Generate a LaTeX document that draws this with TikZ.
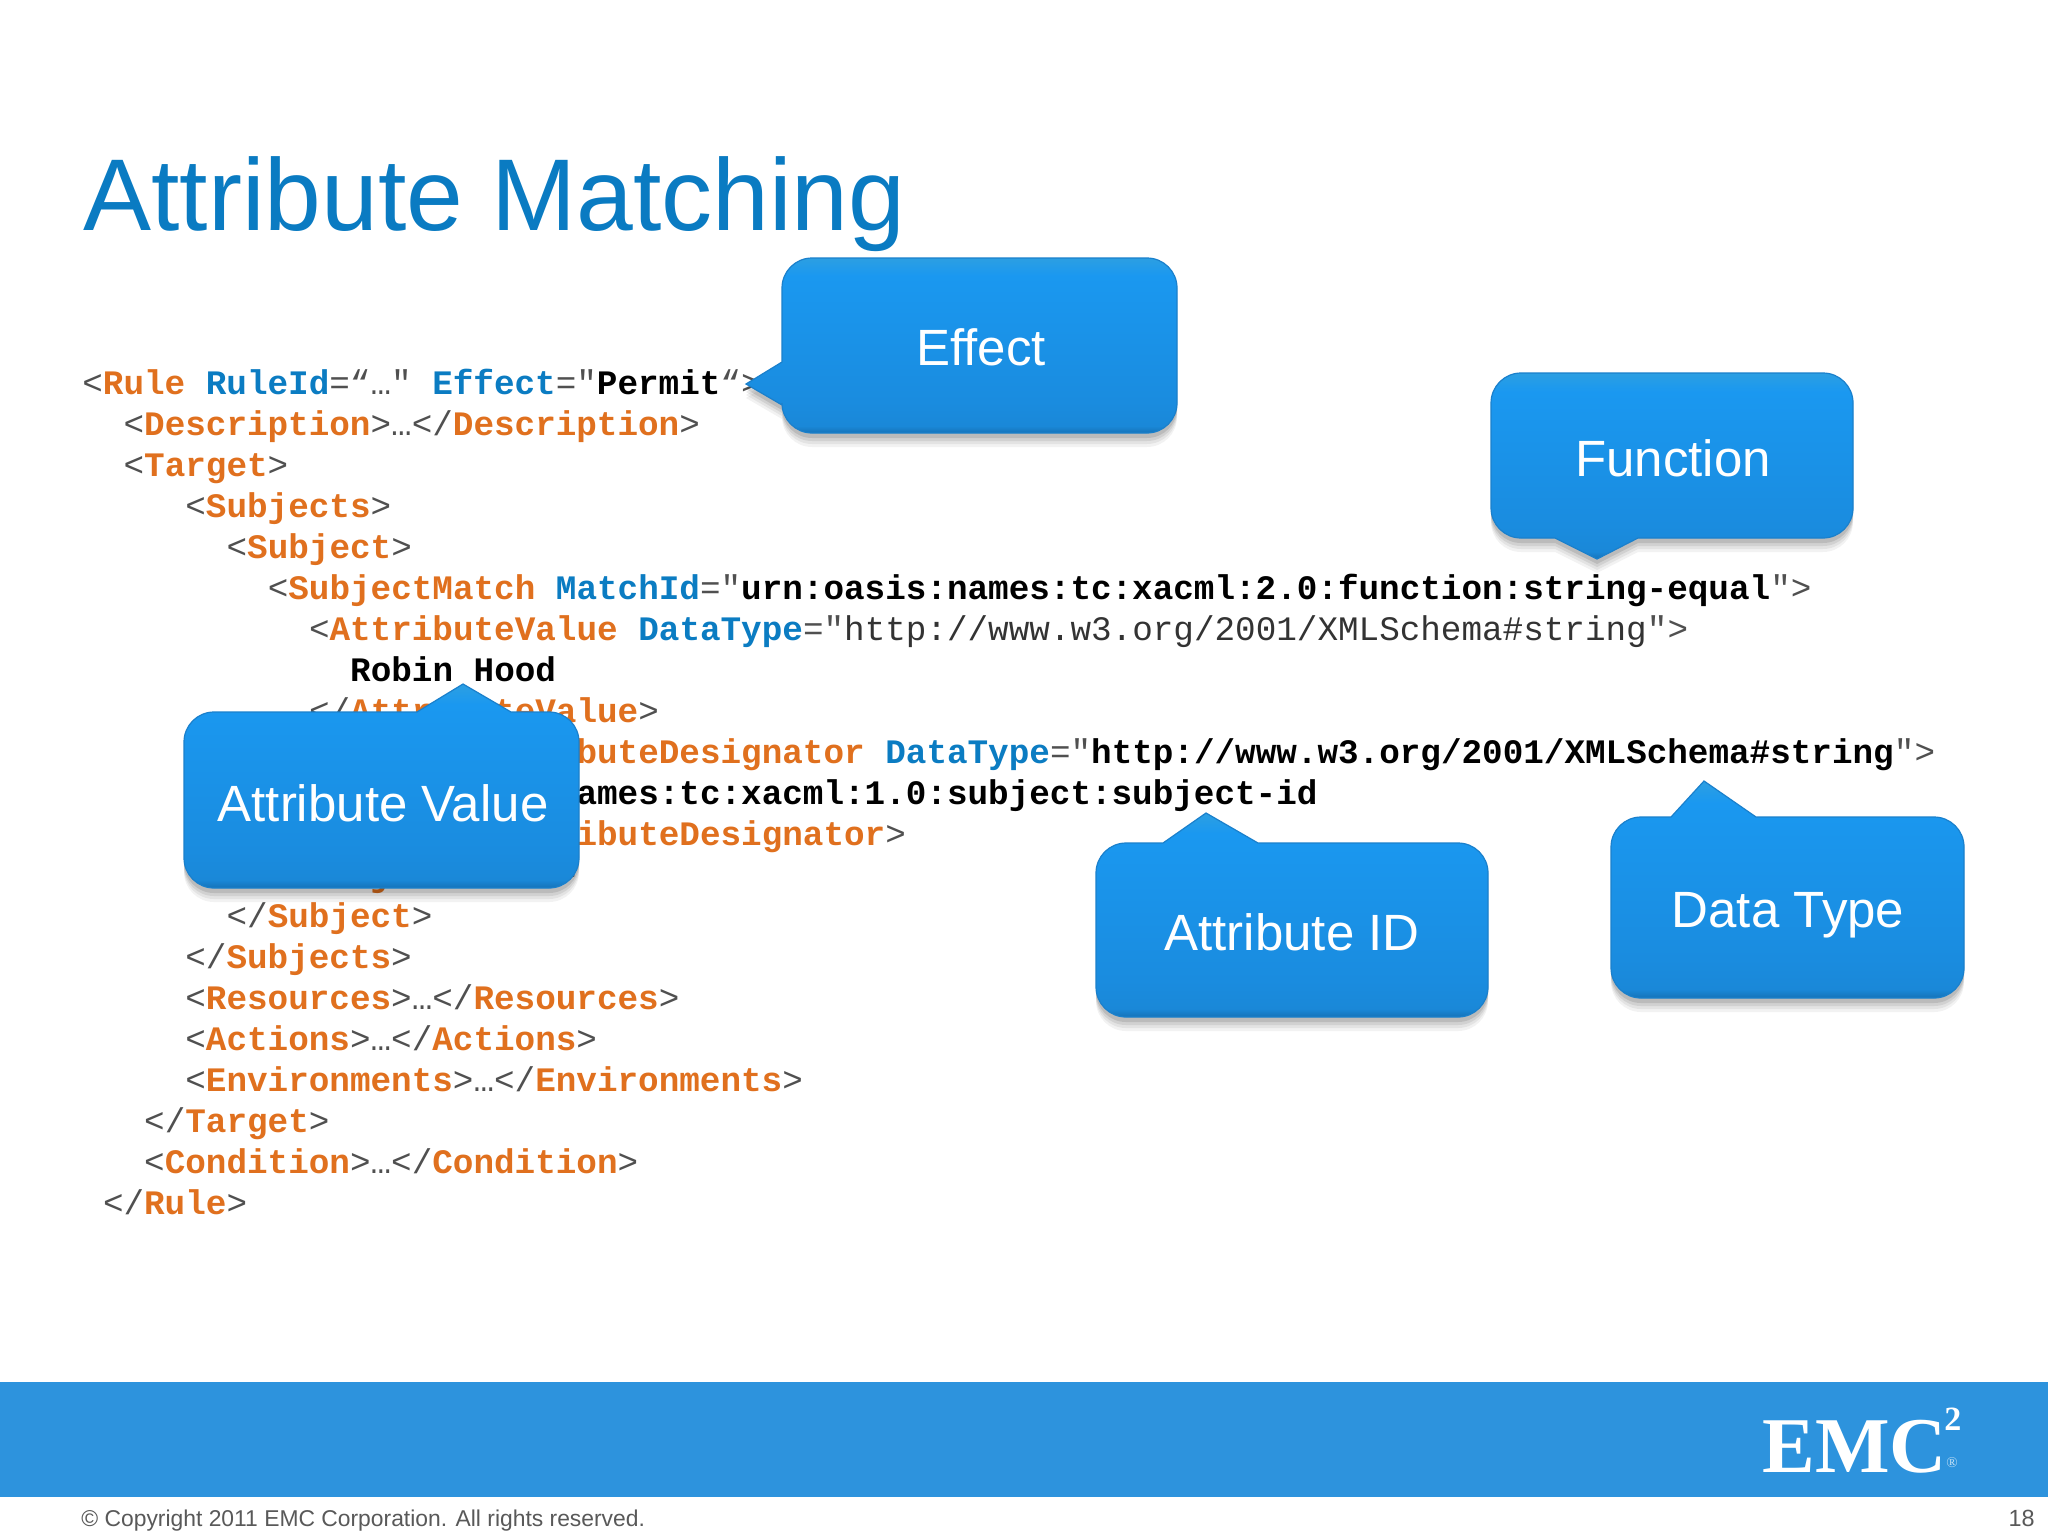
\documentclass[tikz,border=0pt]{standalone}
\usepackage{fontspec}
\setmainfont{Liberation Sans}
\newfontfamily\codefont{Liberation Mono}
\newfontfamily\logofont{Liberation Serif}
\definecolor{codeorange}{HTML}{E0701E}
\definecolor{codeblue}{HTML}{0B7CC2}
\definecolor{codegrey}{HTML}{505050}
\definecolor{titleblue}{HTML}{0A7BC2}
\definecolor{barblue}{HTML}{2D93DD}
\definecolor{footgrey}{HTML}{595959}
\definecolor{cedge}{HTML}{1A80CC}
\definecolor{cbot}{HTML}{1673B8}
\definecolor{cbotb}{HTML}{1A88D8}
\definecolor{cmid}{HTML}{1A8CDF}
\definecolor{ctop}{HTML}{1A98F0}
\definecolor{ctopl}{HTML}{2C9FE2}
\pgfdeclareverticalshading{calloutshade}{100bp}{
  color(0bp)=(cbot);
  color(25bp)=(cbot);
  color(27bp)=(cbotb);
  color(34bp)=(cmid);
  color(70bp)=(ctop);
  color(75bp)=(ctopl);
  color(100bp)=(ctopl)}
\newcommand\xt[1]{{\bfseries\color{codeorange}#1}}
\newcommand\xa[1]{{\bfseries\color{codeblue}#1}}
\newcommand\xv[1]{{\bfseries\color{black}#1}}
\newcommand\xp[1]{{\color{codegrey}#1}}
\newcommand\cl[4]{\node[codeline] (#1) at ({82+20.6*#2},{394.6+41.0*#3}) {#4};}
\newcommand\callout[1]{%
  \foreach \d/\o in {7/0.05,5.5/0.06,4/0.08,2.5/0.1}{\fill[black,opacity=\o,yshift=-\d pt] #1;}
  \path[calloutbody] #1;}
\tikzset{
  codeline/.style={anchor=base west,inner sep=0pt,font=\codefont\fontsize{17.15}{20}\selectfont,text=codegrey},
  calloutbody/.style={shading=calloutshade,draw=cedge,line width=0.6pt},
  calloutlabel/.style={anchor=center,inner sep=0pt,text=white,font=\fontsize{25.5}{30}\selectfont},
}
\begin{document}
\begin{tikzpicture}[x=0.5pt,y=-0.5pt]
\useasboundingbox (0,0) rectangle (2048,1536);
\fill[white] (0,0) rectangle (2048,1536);
\node[anchor=base west,inner sep=0pt,text=titleblue,font=\fontsize{51}{60}\selectfont] (title) at (83,230) {Attribute Matching};

\cl{l0}{0}{0}{\xp{<}\xt{Rule} \xa{RuleId}\xp{=“…"} \xa{Effect}\xp{="}\xv{Permit}\xp{“>}}
\cl{l1}{2}{1}{\xp{<}\xt{Description}\xp{>…</}\xt{Description}\xp{>}}
\cl{l2}{2}{2}{\xp{<}\xt{Target}\xp{>}}
\cl{l3}{5}{3}{\xp{<}\xt{Subjects}\xp{>}}
\cl{l4}{7}{4}{\xp{<}\xt{Subject}\xp{>}}
\cl{l5}{9}{5}{\xp{<}\xt{SubjectMatch} \xa{MatchId}\xp{="}\xv{urn:oasis:names:tc:xacml:2.0:function:string-equal}\xp{">}}
\cl{l6}{11}{6}{\xp{<}\xt{AttributeValue} \xa{DataType}\xp{="}{\color{black!80}http://www.w3.org/2001/XMLSchema\#string}\xp{">}}
\cl{l7}{13}{7}{\xv{Robin Hood}}
\cl{l8}{11}{8}{\xp{</}\xt{AttributeValue}\xp{>}}
\cl{l9}{11}{9}{\xp{<}\xt{SubjectAttributeDesignator} \xa{DataType}\xp{="}\xv{http://www.w3.org/2001/XMLSchema\#string}\xp{">}}
\cl{l10}{13}{10}{\xv{urn:oasis:names:tc:xacml:1.0:subject:subject-id}}
\cl{l11}{11}{11}{\xp{</}\xt{SubjectAttributeDesignator}\xp{>}}
\cl{l12}{9}{12}{\xp{</}\xt{SubjectMatch}\xp{>}}
\cl{l13}{7}{13}{\xp{</}\xt{Subject}\xp{>}}
\cl{l14}{5}{14}{\xp{</}\xt{Subjects}\xp{>}}
\cl{l15}{5}{15}{\xp{<}\xt{Resources}\xp{>…</}\xt{Resources}\xp{>}}
\cl{l16}{5}{16}{\xp{<}\xt{Actions}\xp{>…</}\xt{Actions}\xp{>}}
\cl{l17}{5}{17}{\xp{<}\xt{Environments}\xp{>…</}\xt{Environments}\xp{>}}
\cl{l18}{3}{18}{\xp{</}\xt{Target}\xp{>}}
\cl{l19}{3}{19}{\xp{<}\xt{Condition}\xp{>…</}\xt{Condition}\xp{>}}
\cl{l20}{1}{20}{\xp{</}\xt{Rule}\xp{>}}

\callout{(746,384) -- (782,405) [rounded corners=15pt] -- (782,433) -- (1177,433) -- (1177,258) -- (782,258) [sharp corners] -- (782,362) -- cycle}
\node[calloutlabel] (effect) at (981,347) {Effect};

\callout{(1597,559) -- (1555,538) [rounded corners=15pt] -- (1491,538) -- (1491,373) -- (1853,373) -- (1853,538) [sharp corners] -- (1638,538) -- cycle}
\node[calloutlabel] (function) at (1673,458) {Function};

\callout{(463,684) -- (511,712) [rounded corners=15pt] -- (579,712) -- (579,888) -- (184,888) -- (184,712) [sharp corners] -- (417,712) -- cycle}
\node[calloutlabel] (attrvalue) at (383,803) {Attribute Value};

\callout{(1206,813) -- (1258,843) [rounded corners=15pt] -- (1488,843) -- (1488,1017) -- (1096,1017) -- (1096,843) [sharp corners] -- (1163,843) -- cycle}
\node[calloutlabel] (attrid) at (1292,932) {Attribute ID};

\callout{(1704,781) -- (1756,817) [rounded corners=15pt] -- (1964,817) -- (1964,998) -- (1611,998) -- (1611,817) [sharp corners] -- (1671,817) -- cycle}
\node[calloutlabel] (datatype) at (1788,915) {Data Type};

\fill[barblue] (0,1382) rectangle (2048,1497);
\node[anchor=base west,inner sep=0pt,text=white,font=\logofont\bfseries\fontsize{39.5}{44}\selectfont] (emc) at (1762,1472) {EMC};
\node[anchor=base west,inner sep=0pt,text=white,font=\logofont\bfseries\fontsize{17}{19}\selectfont] (emctwo) at (1944,1430) {2};
\node[anchor=center,inner sep=0pt,text=white,opacity=0.7,font=\logofont\fontsize{7.5}{8}\selectfont] (emcreg) at (1952,1463) {®};
\node[anchor=base west,inner sep=0pt,text=footgrey,font=\fontsize{11.43}{14}\selectfont] (copy) at (81,1526) {© Copyright 2011 EMC Corporation. All rights reserved.};
\node[anchor=base east,inner sep=0pt,text=footgrey,font=\fontsize{11.7}{14}\selectfont] (pageno) at (2035,1526) {18};
\end{tikzpicture}
\end{document}
